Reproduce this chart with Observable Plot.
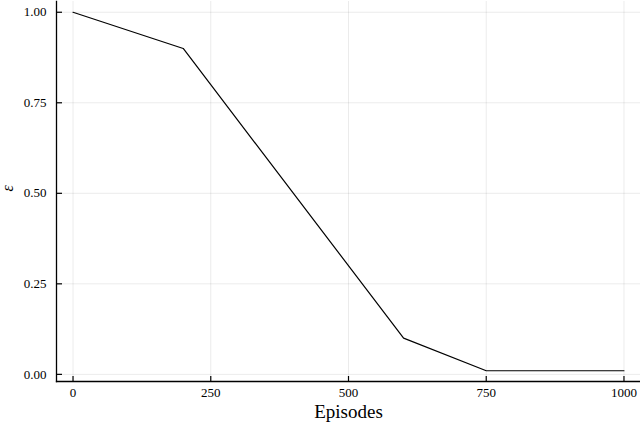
<!DOCTYPE html>
<html>
<head>
<meta charset="utf-8">
<script src="https://cdn.jsdelivr.net/npm/d3@7"></script>
<script src="https://cdn.jsdelivr.net/npm/@observablehq/plot@0.6"></script>
<style>
  html, body { margin: 0; padding: 0; background: #fff; }
  #chart svg { display: block; }
</style>
</head>
<body>
<div id="chart"></div>
<script>
const episodes = [0, 200, 600, 750, 1000];
const epsilon = [1.0, 0.9, 0.1, 0.01, 0.01];
const xTicks = [0, 250, 500, 750, 1000];
const yTicks = [0.0, 0.25, 0.5, 0.75, 1.0];
const xLabel = "Episodes";
const yLabel = "ε";

const data = episodes.map((e, i) => ({episode: e, eps: epsilon[i]}));

const W = 640, H = 425;
const mL = 56, mR = 0, mT = 1, mB = 44;
const innerH = H - mT - mB;
const innerW = W - mL - mR;
const font = "'Liberation Serif', 'DejaVu Serif', serif";

const chart = Plot.plot({
  width: W,
  height: H,
  marginLeft: mL,
  marginRight: mR,
  marginTop: mT,
  marginBottom: mB,
  style: {fontFamily: font, fontSize: "12px", background: "#fff", color: "#000"},
  x: {domain: [-30, 1030]},
  y: {domain: [-0.0197, 1.0297]},
  marks: [
    Plot.gridX(xTicks, {stroke: "#000", strokeOpacity: 0.08, strokeWidth: 1}),
    Plot.gridY(yTicks, {stroke: "#000", strokeOpacity: 0.08, strokeWidth: 1}),
    Plot.line(data, {x: "episode", y: "eps", stroke: "#000", strokeWidth: 1.2}),
    // inward ticks
    Plot.tickX(xTicks, {x: d => d, stroke: "#000", strokeWidth: 1.2, insetTop: innerH - 5}),
    Plot.tickY(yTicks, {y: d => d, stroke: "#000", strokeWidth: 1.2, insetRight: innerW - 6}),
    Plot.axisX(xTicks, {tickSize: 0, tickPadding: 6, tickFormat: d => String(d), fontSize: 13, label: null}),
    Plot.axisY(yTicks, {tickSize: 0, tickPadding: 10, tickFormat: d => d.toFixed(2), fontSize: 13, label: null}),
    Plot.frame({anchor: "left", stroke: "#000", strokeWidth: 1.3}),
    Plot.frame({anchor: "bottom", stroke: "#000", strokeWidth: 1.3}),
    Plot.text([xLabel], {frameAnchor: "bottom", dy: 36, fontSize: 19, text: d => d, fill: "#000"}),
    Plot.text([yLabel], {frameAnchor: "left", dx: -49, fontSize: 16, rotate: -90, text: d => d, fill: "#000", fontStyle: "italic"})
  ]
});
document.getElementById("chart").appendChild(chart);
</script>
</body>
</html>
